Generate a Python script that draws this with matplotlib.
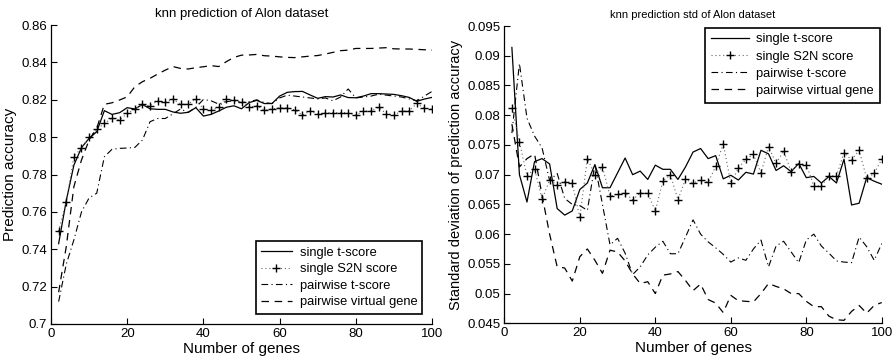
import numpy as np
import matplotlib
matplotlib.use("Agg")
import matplotlib.pyplot as plt
from matplotlib.ticker import FixedLocator, FuncFormatter

plt.rcParams['font.family'] = ['Liberation Sans', 'DejaVu Sans']

# number of selected genes
genes = list(range(2, 101, 2))

series_names = ["single t-score", "single S2N score", "pairwise t-score", "pairwise virtual gene"]

# mean knn prediction accuracy
acc_single_t = [0.743, 0.766, 0.785, 0.7944, 0.7994, 0.8029, 0.8142, 0.8122, 0.8131, 0.8158,
                0.8151, 0.8175, 0.8152, 0.8149, 0.8149, 0.8135, 0.8128, 0.8133, 0.8158, 0.8113,
                0.8122, 0.8140, 0.8160, 0.8168, 0.8152, 0.8185, 0.8197, 0.8180, 0.8180, 0.8220,
                0.8240, 0.8244, 0.8245, 0.8226, 0.8208, 0.8217, 0.8215, 0.8226, 0.8212, 0.8211,
                0.8220, 0.8233, 0.8233, 0.8231, 0.8229, 0.8222, 0.8213, 0.8192, 0.8204, 0.8213]
acc_single_s2n = [0.7498, 0.7655, 0.7895, 0.7944, 0.7999, 0.8042, 0.8074, 0.8102, 0.8092, 0.8127,
                  0.8150, 0.8175, 0.8168, 0.8195, 0.8188, 0.8204, 0.8177, 0.8177, 0.8204, 0.8150,
                  0.8145, 0.8160, 0.8202, 0.8197, 0.8188, 0.8160, 0.8168, 0.8145, 0.8151, 0.8158,
                  0.8158, 0.8145, 0.8118, 0.8140, 0.8122, 0.8131, 0.8131, 0.8131, 0.8131, 0.8118,
                  0.8140, 0.8140, 0.8160, 0.8125, 0.8118, 0.8140, 0.8140, 0.8181, 0.8154, 0.8151]
acc_pair_t = [0.712, 0.732, 0.745, 0.760, 0.7675, 0.770, 0.7895, 0.7935, 0.794, 0.7942,
              0.7945, 0.7985, 0.8083, 0.8100, 0.8100, 0.8125, 0.8151, 0.8133, 0.8159, 0.8202,
              0.8195, 0.8177, 0.8190, 0.8195, 0.8185, 0.8190, 0.8200, 0.8185, 0.8180, 0.8210,
              0.8225, 0.8220, 0.8215, 0.8210, 0.8205, 0.8210, 0.8195, 0.8215, 0.8258, 0.8210,
              0.8215, 0.8220, 0.8230, 0.8225, 0.8220, 0.8215, 0.8205, 0.8195, 0.8220, 0.8245]
acc_pair_virtual = [0.717, 0.7414, 0.7735, 0.7878, 0.7985, 0.8047, 0.8176, 0.8184, 0.8199, 0.8216,
                    0.8270, 0.8297, 0.8315, 0.8338, 0.8359, 0.8378, 0.8368, 0.8365, 0.8372, 0.8377,
                    0.8383, 0.8378, 0.8404, 0.8427, 0.8439, 0.8440, 0.8443, 0.8436, 0.8434, 0.8430,
                    0.8427, 0.8426, 0.8430, 0.8434, 0.8437, 0.8445, 0.8454, 0.8463, 0.8466, 0.8475,
                    0.8475, 0.8475, 0.8477, 0.8479, 0.8473, 0.8472, 0.8472, 0.8470, 0.8468, 0.8466]

# standard deviation of knn prediction accuracy
std_single_t = [0.0914, 0.0700, 0.0654, 0.0722, 0.0727, 0.0718, 0.0643, 0.0632, 0.0639, 0.0675,
                0.0686, 0.0717, 0.0678, 0.0678, 0.0703, 0.0728, 0.0700, 0.0706, 0.0692, 0.0716,
                0.0709, 0.0709, 0.0692, 0.0713, 0.0738, 0.0744, 0.0727, 0.0732, 0.0693, 0.0699,
                0.0691, 0.0704, 0.0701, 0.0741, 0.0735, 0.0707, 0.0715, 0.0705, 0.0719, 0.0695,
                0.0697, 0.0686, 0.0697, 0.0686, 0.0726, 0.0649, 0.0652, 0.0695, 0.0689, 0.0684]
std_single_s2n = [0.0812, 0.0755, 0.0698, 0.0710, 0.0659, 0.0691, 0.0683, 0.0688, 0.0686, 0.0628,
                  0.0727, 0.0700, 0.0713, 0.0664, 0.0667, 0.0669, 0.0658, 0.0669, 0.0669, 0.0639,
                  0.0689, 0.0700, 0.0658, 0.0692, 0.0686, 0.0691, 0.0687, 0.0714, 0.0752, 0.0686,
                  0.0711, 0.0726, 0.0734, 0.0703, 0.0747, 0.0719, 0.0740, 0.0705, 0.0718, 0.0717,
                  0.0681, 0.0681, 0.0698, 0.0698, 0.0737, 0.0725, 0.0741, 0.0694, 0.0702, 0.0726]
std_pair_t = [0.0770, 0.0887, 0.0795, 0.0765, 0.0745, 0.0690, 0.0702, 0.0660, 0.0650, 0.0648,
              0.0640, 0.0717, 0.0650, 0.0582, 0.0593, 0.0568, 0.0532, 0.0545, 0.0565, 0.0578,
              0.0588, 0.0567, 0.0567, 0.0595, 0.0624, 0.0600, 0.0587, 0.0577, 0.0566, 0.0553,
              0.0560, 0.0556, 0.0575, 0.0590, 0.0545, 0.0580, 0.0588, 0.0570, 0.0552, 0.0590,
              0.0600, 0.0580, 0.0568, 0.0555, 0.0553, 0.0552, 0.0595, 0.0579, 0.0556, 0.0584]
std_pair_virtual = [0.0785, 0.0713, 0.0727, 0.0735, 0.0665, 0.0600, 0.0545, 0.0543, 0.0521, 0.0562,
                    0.0575, 0.0556, 0.0534, 0.0573, 0.0570, 0.0555, 0.0533, 0.0517, 0.0520, 0.0500,
                    0.0531, 0.0533, 0.0537, 0.0522, 0.0505, 0.0516, 0.0490, 0.0484, 0.0468, 0.0497,
                    0.0488, 0.0487, 0.0486, 0.0500, 0.0517, 0.0512, 0.0508, 0.0500, 0.0500, 0.0487,
                    0.0478, 0.0478, 0.0462, 0.0456, 0.0455, 0.0470, 0.0480, 0.0467, 0.0480, 0.0485]

x_ticks = [0, 20, 40, 60, 80, 100]
acc_ticks = [0.70, 0.72, 0.74, 0.76, 0.78, 0.80, 0.82, 0.84, 0.86]
std_ticks = [0.045, 0.05, 0.055, 0.06, 0.065, 0.07, 0.075, 0.08, 0.085, 0.09, 0.095]

styles = [
    dict(color="black", linestyle="-", linewidth=0.9),
    dict(color="#666666", linestyle=(0, (1, 2.5)), linewidth=0.8, marker="+",
         markersize=5.5, markeredgewidth=1.0, markeredgecolor="black"),
    dict(color="black", linestyle=(0, (6, 3, 1, 3)), linewidth=0.8),
    dict(color="black", linestyle=(0, (6, 4.5)), linewidth=0.9),
]

fig = plt.figure(figsize=(8.95, 3.61), dpi=100)
ax1 = fig.add_axes([0.057, 0.1025, 0.4257, 0.828])
ax2 = fig.add_axes([0.5635, 0.1044, 0.4217, 0.8235])

fmt = FuncFormatter(lambda v, p: f"{v:g}")


def style_axes(ax, yticks, ylim):
    ax.set_xlim(0, 100)
    ax.set_ylim(*ylim)
    ax.xaxis.set_major_locator(FixedLocator(x_ticks))
    ax.yaxis.set_major_locator(FixedLocator(yticks))
    ax.yaxis.set_major_formatter(fmt)
    ax.xaxis.set_major_formatter(fmt)
    ax.tick_params(direction="in", length=4, width=0.8, labelsize=9.5, pad=3)
    ax.spines["top"].set_visible(False)
    ax.spines["right"].set_visible(False)
    for s in ("left", "bottom"):
        ax.spines[s].set_linewidth(0.9)


acc_series = [acc_single_t, acc_single_s2n, acc_pair_t, acc_pair_virtual]
for vals, name, st in zip(acc_series, series_names, styles):
    ax1.plot(genes, vals, label=name, **st)
style_axes(ax1, acc_ticks, (0.70, 0.86))
ax1.set_title("knn prediction of Alon dataset", fontsize=9.5, pad=6)
ax1.set_xlabel("Number of genes", fontsize=11, labelpad=1)
ax1.set_ylabel("Prediction accuracy", fontsize=11, labelpad=3)
leg1 = ax1.legend(loc="lower right", bbox_to_anchor=(0.975, 0.035), fontsize=9.3,
                  frameon=True, fancybox=False, edgecolor="black", framealpha=1,
                  handlelength=2.4, borderpad=0.4, labelspacing=0.35, handletextpad=0.6,
                  borderaxespad=0)
leg1.get_frame().set_linewidth(1.2)

std_series = [std_single_t, std_single_s2n, std_pair_t, std_pair_virtual]
for vals, name, st in zip(std_series, series_names, styles):
    ax2.plot(genes, vals, label=name, **st)
style_axes(ax2, std_ticks, (0.045, 0.095))
ax2.set_title("knn prediction std of Alon dataset", fontsize=8, pad=6)
ax2.set_xlabel("Number of genes", fontsize=11, labelpad=1)
ax2.set_ylabel("Standard deviation of prediction accuracy", fontsize=10.5, labelpad=3)
leg2 = ax2.legend(loc="upper right", bbox_to_anchor=(0.995, 0.995), fontsize=9.3,
                  frameon=True, fancybox=False, edgecolor="black", framealpha=1,
                  handlelength=2.9, borderpad=0.45, labelspacing=0.4, handletextpad=0.6,
                  borderaxespad=0)
leg2.get_frame().set_linewidth(1.2)

fig.savefig("out.png", dpi=100)
